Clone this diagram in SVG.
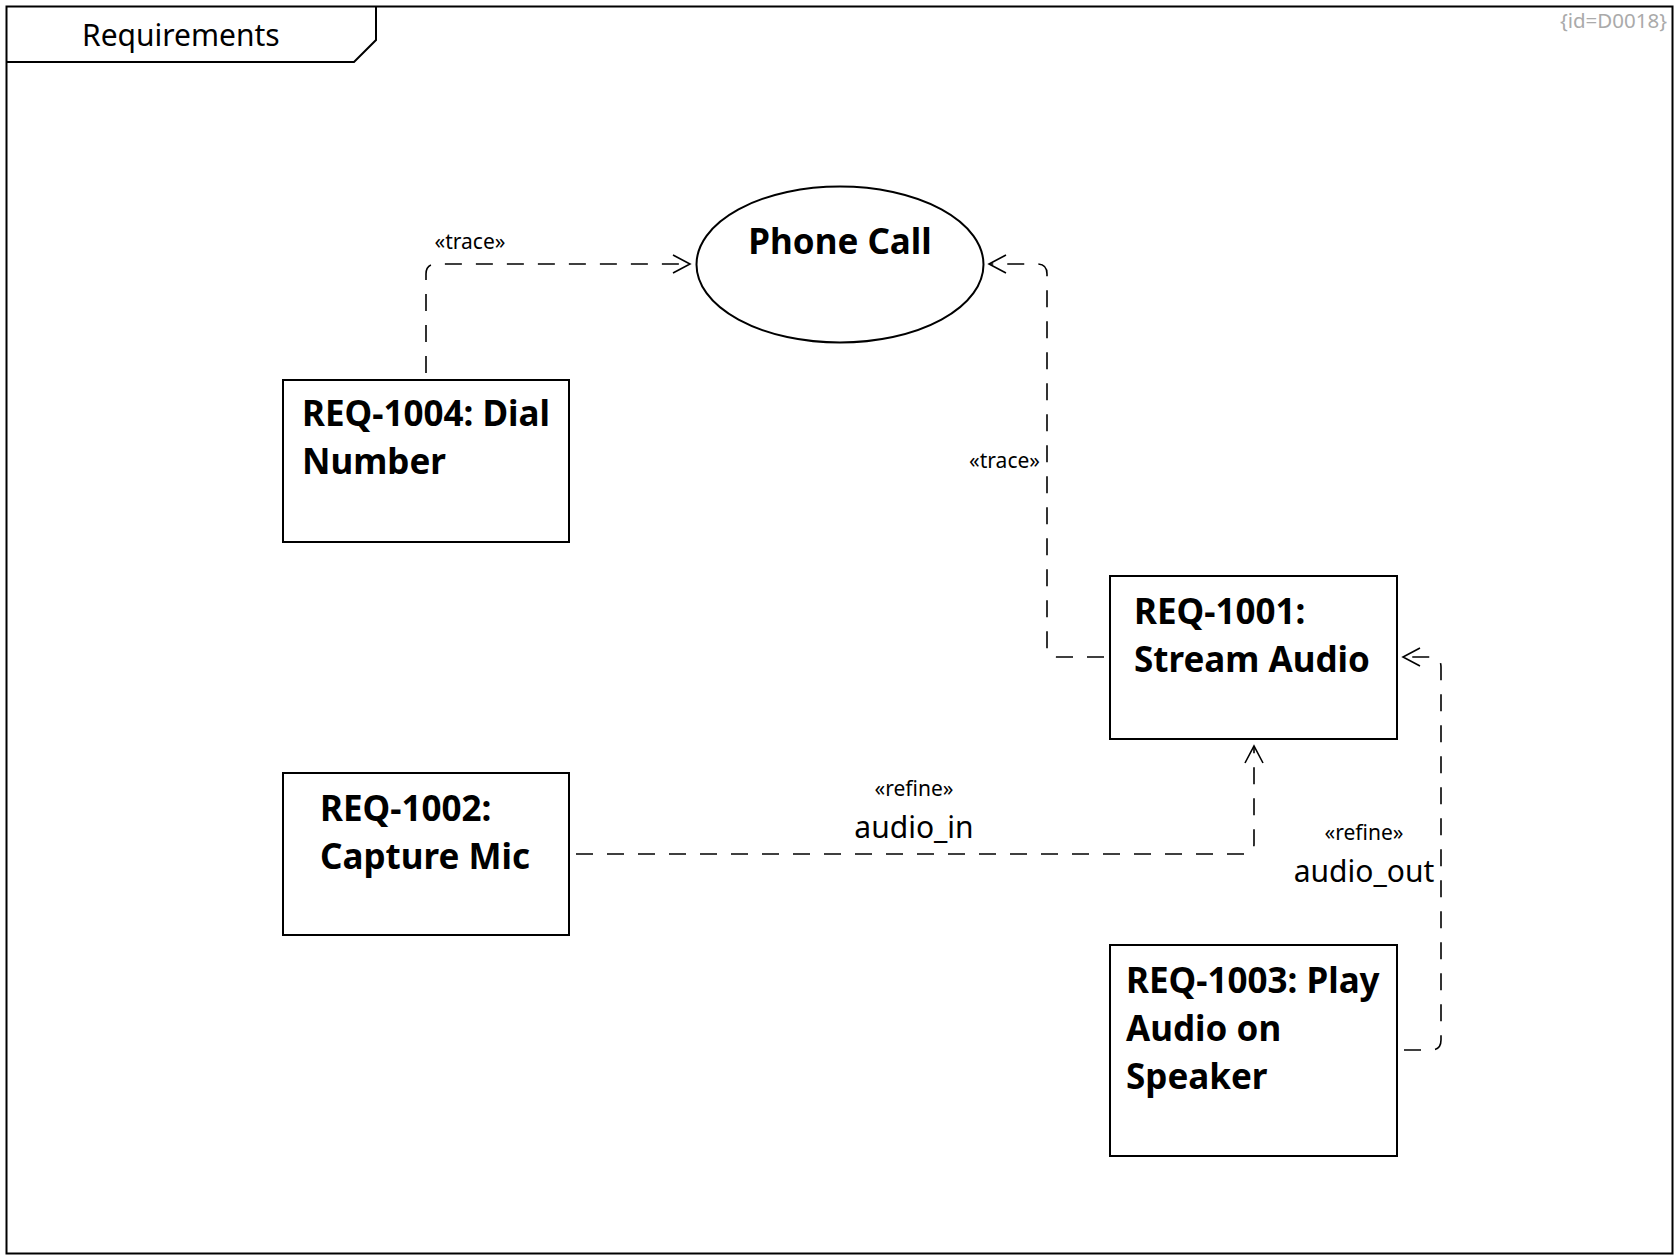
<svg xmlns="http://www.w3.org/2000/svg" width="1680" height="1260" viewBox="0 0 1680 1260">
<style>
.frame{fill:none;stroke:#000;stroke-width:2}
.node{fill:#fff;stroke:#000;stroke-width:2}
.conn{fill:none;stroke:#000;stroke-width:1.6;stroke-dasharray:17 14}
.head{fill:none;stroke:#000;stroke-width:1.6}
.title{font-family:"Noto Sans","Open Sans",sans-serif;font-size:30px;fill:#000}
.id{font-family:"Noto Sans","Open Sans",sans-serif;font-size:20.5px;fill:#aaa}
.name{font-family:"Noto Sans","Open Sans",sans-serif;font-size:35px;font-weight:bold;fill:#000}
.st{font-family:"Noto Sans","Open Sans",sans-serif;font-size:21px;fill:#000}
.lbl{font-family:"Noto Sans","Open Sans",sans-serif;font-size:30px;fill:#000}
</style>
<defs>
<marker id="arr" markerUnits="userSpaceOnUse" viewBox="-20 -12 24 24" markerWidth="24" markerHeight="24" refX="0" refY="0" orient="auto">
<path class="head" d="M-17,-9 L0,0 L-17,9"/>
</marker>
</defs>
<rect width="1680" height="1260" fill="#fff"/>
<g id="frame">
<rect class="frame" x="6.5" y="6.5" width="1666" height="1247"/>
<path class="frame" d="M6.5,62 H354 L376,40 V6.5" stroke-width="1.6"/>
<text class="title" x="82" y="46">Requirements</text>
<text class="id" x="1667" y="28" text-anchor="end">{id=D0018}</text>
</g>
<g id="connectors">
<path class="conn" d="M426,373 V274 Q426,264 436,264 H690" marker-end="url(#arr)"/>
<path class="conn" d="M1104,657 H1057 Q1047,657 1047,647 V274 Q1047,264 1037,264 H989" marker-end="url(#arr)"/>
<path class="conn" d="M576,854 H1244 Q1254,854 1254,844 V746" marker-end="url(#arr)"/>
<path class="conn" d="M1404,1050 H1431 Q1441,1050 1441,1040 V667 Q1441,657 1431,657 H1403" marker-end="url(#arr)"/>
<text class="st" x="470" y="249" text-anchor="middle">«trace»</text>
<text class="st" x="1040" y="468" text-anchor="end">«trace»</text>
<text class="st" x="914" y="796" text-anchor="middle">«refine»</text>
<text class="lbl" x="914" y="838" text-anchor="middle">audio_in</text>
<text class="st" x="1364" y="840" text-anchor="middle">«refine»</text>
<text class="lbl" x="1364" y="882" text-anchor="middle">audio_out</text>
</g>
<g id="phone-call">
<ellipse class="node" cx="840" cy="264.5" rx="143.5" ry="78"/>
<text class="name" x="840" y="254" text-anchor="middle">Phone Call</text>
</g>
<g id="req-1004">
<rect class="node" x="283" y="380" width="286" height="162"/>
<text class="name" x="302" y="426">REQ-1004: Dial</text>
<text class="name" x="302" y="474">Number</text>
</g>
<g id="req-1001">
<rect class="node" x="1110" y="576" width="287" height="163"/>
<text class="name" x="1134" y="624">REQ-1001:</text>
<text class="name" x="1134" y="672">Stream Audio</text>
</g>
<g id="req-1002">
<rect class="node" x="283" y="773" width="286" height="162"/>
<text class="name" x="320" y="821">REQ-1002:</text>
<text class="name" x="320" y="869">Capture Mic</text>
</g>
<g id="req-1003">
<rect class="node" x="1110" y="945" width="287" height="211"/>
<text class="name" x="1126" y="993">REQ-1003: Play</text>
<text class="name" x="1126" y="1041">Audio on</text>
<text class="name" x="1126" y="1089">Speaker</text>
</g>
</svg>
